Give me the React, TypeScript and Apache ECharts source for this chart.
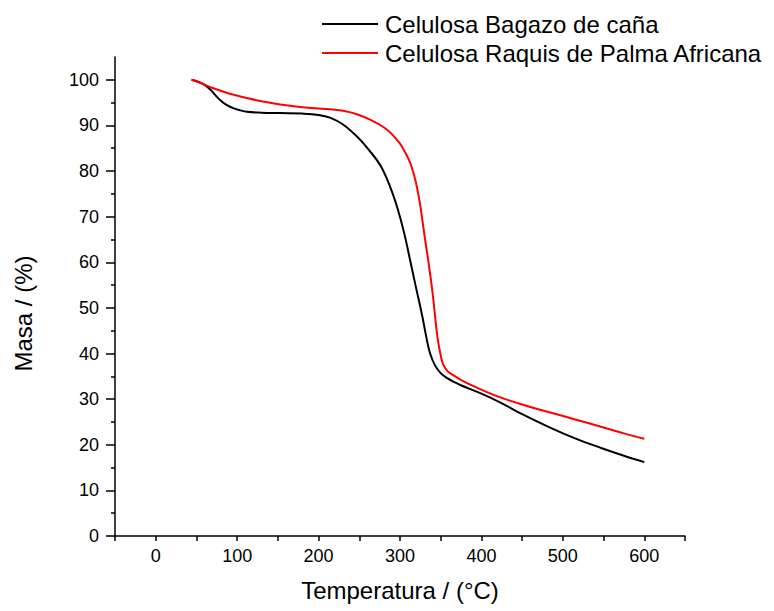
import React, { useEffect, useRef } from "react";
import * as echarts from "echarts";

const seriesNames = ["Celulosa Bagazo de caña", "Celulosa Raquis de Palma Africana"];

const tempBagazo = [44, 52, 58, 63, 68, 73, 79, 87, 95, 104, 112, 130, 153, 180, 200, 214, 230, 248, 262, 276, 288, 297, 305, 313, 319, 327, 333, 337, 343, 350, 358, 366, 374, 400, 424, 450, 485, 515, 547, 575, 600];
const masaBagazo = [100, 99.6, 99.1, 98.5, 97.7, 96.7, 95.6, 94.5, 93.8, 93.3, 93.0, 92.8, 92.7, 92.6, 92.3, 91.7, 90.2, 87.4, 84.6, 81.2, 76.5, 71.8, 66.5, 60.0, 55.0, 48.5, 43.0, 40.0, 37.4, 35.7, 34.6, 33.8, 33.1, 31.2, 29.2, 26.7, 23.7, 21.4, 19.3, 17.6, 16.2];

const tempRaquis = [44, 55, 70, 90, 112, 130, 153, 180, 210, 230, 248, 265, 280, 290, 300, 306, 312, 317, 321, 325, 328, 331, 335, 340, 346, 350, 353, 358, 366, 374, 391, 420, 452, 480, 514, 550, 575, 600];
const masaRaquis = [100, 99.3, 98.2, 97.0, 96.0, 95.3, 94.6, 94.0, 93.6, 93.2, 92.4, 91.1, 89.6, 88.1, 86.0, 84.2, 82.0, 79.3, 76.3, 72.3, 68.5, 64.8, 60.0, 53.3, 43.6, 39.6, 37.6, 36.2, 35.2, 34.3, 32.8, 30.6, 28.7, 27.3, 25.6, 23.8, 22.5, 21.3];

const yMajorTicks = [0, 10, 20, 30, 40, 50, 60, 70, 80, 90, 100];
const yMinorTicks = [5, 15, 25, 35, 45, 55, 65, 75, 85, 95];
const xTickLabels = [0, 100, 200, 300, 400, 500, 600];

const seriesColors = ["#000000", "#ff0000"];

export default function App() {
  const ref = useRef<HTMLDivElement>(null);

  useEffect(() => {
    if (!ref.current) return;
    const chart = echarts.init(ref.current, undefined, { renderer: "svg" });
    const font = "'Liberation Sans', Arial, sans-serif";
    const pairs = (xs: number[], ys: number[]) => xs.map((x, i) => [x, ys[i]]);

    chart.setOption({
      animation: false,
      backgroundColor: "#ffffff",
      textStyle: { fontFamily: font, color: "#000" },
      grid: { left: 115, right: 89, top: 57, bottom: 75, containLabel: false },
      legend: {
        orient: "vertical",
        left: 322,
        top: 12,
        padding: 0,
        icon: "rect",
        itemWidth: 56,
        itemHeight: 2,
        itemGap: 5,
        textStyle: { fontFamily: font, fontSize: 24, color: "#000", lineHeight: 24, padding: [0, 0, 0, 2] },
        data: seriesNames,
      },
      xAxis: {
        type: "value",
        min: -50,
        max: 650,
        interval: 50,
        name: "Temperatura / (°C)",
        nameLocation: "middle",
        nameGap: 42,
        nameTextStyle: { fontFamily: font, fontSize: 24, color: "#000" },
        axisLine: { show: true, onZero: false, lineStyle: { color: "#000", width: 1.5 } },
        axisTick: { show: true, length: 5, lineStyle: { color: "#000", width: 1.5 } },
        axisLabel: { customValues: xTickLabels, fontFamily: font, fontSize: 18, color: "#000", margin: 11 },
        splitLine: { show: false },
      },
      yAxis: [
        {
          type: "value",
          min: 0,
          max: 105,
          interval: 10,
          name: "Masa / (%)",
          nameLocation: "middle",
          nameGap: 80,
          nameRotate: 90,
          nameTextStyle: { fontFamily: font, fontSize: 24, color: "#000", padding: [0, 34, 0, 0] },
          axisLine: { show: true, onZero: false, lineStyle: { color: "#000", width: 1.5 } },
          axisTick: { show: true, length: 9, customValues: yMajorTicks, lineStyle: { color: "#000", width: 1.5 } },
          axisLabel: {
            fontFamily: font,
            fontSize: 18,
            color: "#000",
            margin: 16,
            showMaxLabel: false,
            formatter: (v: number) => (v > 100 ? "" : String(v)),
          },
          splitLine: { show: false },
        },
        {
          type: "value",
          min: 0,
          max: 105,
          position: "left",
          axisLine: { show: false, onZero: false },
          axisTick: { show: true, length: 4, customValues: yMinorTicks, lineStyle: { color: "#000", width: 1.5 } },
          axisLabel: { show: false },
          splitLine: { show: false },
        },
      ],
      series: [
        {
          name: seriesNames[0],
          type: "line",
          data: pairs(tempBagazo, masaBagazo),
          showSymbol: false,
          smooth: 0.4,
          lineStyle: { color: seriesColors[0], width: 2 },
          itemStyle: { color: seriesColors[0] },
        },
        {
          name: seriesNames[1],
          type: "line",
          data: pairs(tempRaquis, masaRaquis),
          showSymbol: false,
          smooth: 0.4,
          lineStyle: { color: seriesColors[1], width: 2 },
          itemStyle: { color: seriesColors[1] },
        },
      ],
    });

    return () => chart.dispose();
  }, []);

  return <div ref={ref} style={{ width: 774, height: 611, position: "absolute", left: 0, top: 0 }} />;
}
